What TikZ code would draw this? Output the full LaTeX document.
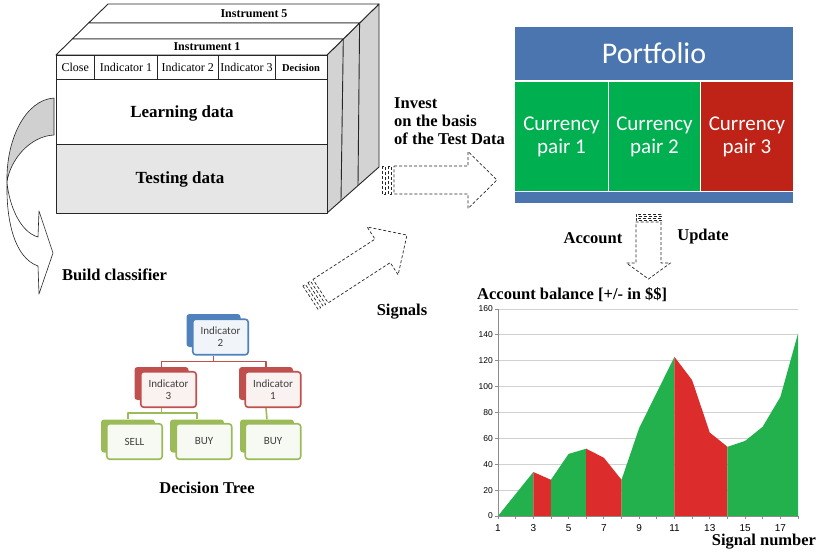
\documentclass[tikz,border=0pt]{standalone}
\usepackage{fontspec}
\setmainfont{Liberation Serif}
\newfontfamily\calib{Carlito}
\newfontfamily\arialf{Liberation Sans}
\definecolor{pblue}{HTML}{4A75AF}
\definecolor{pgreen}{HTML}{00B050}
\definecolor{pred}{HTML}{BF2318}
\definecolor{cgreen}{HTML}{22B14C}
\definecolor{cred}{HTML}{DD2C2C}
\definecolor{tblue}{HTML}{4F81BD}
\definecolor{tred}{HTML}{C0504D}
\definecolor{tgreen}{HTML}{9BBB59}
\definecolor{sidegray}{HTML}{D3D3D3}
\definecolor{testgray}{HTML}{E6E6E6}
\definecolor{curvegray}{HTML}{D0D0D0}
\begin{document}
\begin{tikzpicture}[x=1pt,y=-1pt,line join=round,
  big/.style={font=\fontsize{16.5}{18}\selectfont\bfseries, inner sep=0pt},
  bigger/.style={font=\fontsize{17}{19}\selectfont\bfseries, inner sep=0pt},
  hdr/.style={font=\fontsize{12}{13}\selectfont, inner sep=0pt},
  hdrb/.style={font=\fontsize{10.5}{12}\selectfont\bfseries, inner sep=0pt},
  instr/.style={font=\fontsize{12}{13}\selectfont\bfseries, inner sep=0pt},
  boxline/.style={draw=black!85, line width=0.9pt},
  thinline/.style={draw=black!85, line width=0.6pt},
  dsh/.style={draw=black!85, line width=0.7pt, dash pattern=on 3pt off 2pt, fill=white},
  tsh/.style={fill=#1, rounded corners=3pt, minimum width=54pt, minimum height=33pt, inner sep=0pt},
  tfr/.style={draw=#1, fill=#1!8, line width=1.6pt, rounded corners=3pt, minimum width=55.5pt, minimum height=35.5pt, inner sep=0pt, align=center, text=black!75, font=\calib\fontsize{11}{12}\selectfont},
  tcon/.style={draw=#1, line width=1.6pt},
  cell/.style={text=white, align=center, inner sep=0pt, font=\calib\fontsize{21}{23}\selectfont},
  gridl/.style={draw=black!18, line width=0.8pt},
  axisl/.style={draw=black!45, line width=0.8pt},
  ylab/.style={anchor=east, inner sep=0pt, font=\arialf\fontsize{8.5}{9}\selectfont},
  xlab/.style={inner sep=0pt, font=\arialf\fontsize{10}{11}\selectfont}
]
\useasboundingbox (0,0) rectangle (820,555);

% ---------------- data box ----------------
\filldraw[boxline, fill=sidegray] (327,55) -- (379,4) -- (379,167) -- (327,213) -- cycle;
\draw[boxline] (343.3,39) -- (341,200.6);
\draw[boxline] (359.6,23) -- (358,185.6);
\filldraw[boxline, fill=white] (88.6,23) -- (108,4) -- (379,4) -- (359.6,23) -- cycle;
\filldraw[boxline, fill=white] (72.3,39) -- (88.6,23) -- (359.6,23) -- (343.3,39) -- cycle;
\filldraw[boxline, fill=white] (56,55) -- (72.3,39) -- (343.3,39) -- (327,55) -- cycle;
\fill[white] (56,55) rectangle (327,144);
\fill[testgray] (56,144) rectangle (327,213);
\draw[boxline] (56,55) rectangle (327,213);
\draw[boxline] (56,79) -- (327,79);
\draw[boxline] (56,144) -- (327,144);
\foreach \xx in {94.5,157.5,218,275} \draw[thinline] (\xx,55) -- (\xx,79);

\node[instr] (inst5) at (254,13.5) {Instrument 5};
\node[instr] (inst1) at (207,47) {Instrument 1};
\node[hdr] (hclose) at (75.3,67.5) {Close};
\node[hdr] (hind1) at (126,67.5) {Indicator 1};
\node[hdr] (hind2) at (187.8,67.5) {Indicator 2};
\node[hdr] (hind3) at (246.5,67.5) {Indicator 3};
\node[hdrb] (hdec) at (301,67.5) {Decision};
\node[bigger] (learn) at (182,113) {Learning data};
\node[bigger] (testd) at (180,179) {Testing data};

% ---------------- curved arrow ----------------
\filldraw[thinline, fill=white] (7,182) .. controls (6,222) and (15,258) .. (38,266)
  -- (39,294) -- (53,253) -- (39,211) -- (38,237)
  .. controls (20,232) and (9,205) .. (7,182) -- cycle;
\filldraw[thinline, fill=curvegray] (54,98) .. controls (25,100) and (6,140) .. (7,182)
  .. controls (10,160) and (30,136) .. (54,135) -- cycle;

% ---------------- striped arrows ----------------
\begin{scope}[shift={(382,180)}]
 \draw[dsh] (12,-14) -- (86,-14) -- (86,-28.5) -- (115,0) -- (86,28.5) -- (86,14) -- (12,14) -- cycle;
 \draw[dsh] (0,-14) rectangle (3,14);
 \draw[dsh] (6,-14) rectangle (9,14);
\end{scope}
\begin{scope}[shift={(310.5,297.7)}, rotate=33]
 \draw[dsh] (12,-14) -- (86,-14) -- (86,-28.5) -- (115,0) -- (86,28.5) -- (86,14) -- (12,14) -- cycle;
 \draw[dsh] (0,-14) rectangle (3,14);
 \draw[dsh] (6,-14) rectangle (9,14);
\end{scope}
\begin{scope}[shift={(648.5,214)}, rotate=-90]
 \draw[dsh] (8,-12.5) -- (49,-12.5) -- (49,-22) -- (65,0) -- (49,22) -- (49,12.5) -- (8,12.5) -- cycle;
 \draw[dsh] (0,-12.5) rectangle (2.5,12.5);
 \draw[dsh] (4.5,-12.5) rectangle (6.5,12.5);
\end{scope}

\node[big, align=left, anchor=west] (invest) at (394,121) {Invest\\on the basis\\of the Test Data};
\node[big] (build) at (114.5,275) {Build classifier};
\node[big] (signals) at (402,312) {Signals};
\node[big] (account) at (593,238) {Account};
\node[big] (update) at (703,237) {Update};
\node[big] (dtree) at (207,488) {Decision Tree};

% ---------------- portfolio ----------------
\fill[pblue] (515,27) rectangle (793,203);
\fill[white] (515,79.5) rectangle (793,191.5);
\fill[pgreen] (515,81.5) rectangle (607.8,190.8);
\fill[pgreen] (609.3,81.5) rectangle (699.5,190.8);
\fill[pred] (701,81.5) rectangle (793,190.8);
\node[text=white, inner sep=0pt, font=\calib\fontsize{30}{32}\selectfont] (portfolio) at (654,53) {Portfolio};
\node[cell] (cp1) at (561.5,136.5) {Currency\\pair 1};
\node[cell] (cp2) at (654.5,136.5) {Currency\\pair 2};
\node[cell] (cp3) at (747,136.5) {Currency\\pair 3};

% ---------------- decision tree ----------------
\node[tsh=tblue] (rootS) at (213.5,330.5) {};
\node[tsh=tred] (l3S) at (161.5,383.5) {};
\node[tsh=tred] (r1S) at (266,383.5) {};
\node[tsh=tgreen] (sellS) at (128,436) {};
\node[tsh=tgreen] (buyaS) at (197,436) {};
\node[tsh=tgreen] (buybS) at (267,436) {};
\node[tfr=tblue] (rootF) at (220.5,337) {Indicator\\2};
\node[tfr=tred] (l3F) at (168.5,389.5) {Indicator\\3};
\node[tfr=tred] (r1F) at (273,389.5) {Indicator\\1};
\node[tfr=tgreen] (sellF) at (134.5,441.5) {SELL};
\node[tfr=tgreen] (buyaF) at (204,441.5) {BUY};
\node[tfr=tgreen] (buybF) at (273,441.5) {BUY};
\draw[tcon=tred] (rootS.center |- rootF.south) -- ++(0,6) coordinate (rj);
\draw[tcon=tred] (rj) -| (l3S.north);
\draw[tcon=tred] (rj) -| (r1S.north);
\draw[tcon=tgreen] (l3S.center |- l3F.south) -- ++(0,5) coordinate (gj);
\draw[tcon=tgreen] (gj) -| (sellS.north);
\draw[tcon=tgreen] (gj) -| (buyaS.north);
\draw[tcon=tgreen] (r1S.center |- r1F.south) -- (buybS.north);

% ---------------- chart ----------------
\node[big, anchor=west] (ctitle) at (477,295) {Account balance [+/- in \$\$]};
\begin{scope}[shift={(498,516)}, x=17.647pt, y=1.29375pt]
  \foreach \v in {20,40,...,160} \draw[gridl] (0,\v) -- (17,\v);
  \fill[cgreen] (0,0) -- (1,17) -- (2,34) -- (2,0) -- cycle;
  \fill[cred] (2,0) -- (2,34) -- (3,28) -- (3,0) -- cycle;
  \fill[cgreen] (3,0) -- (3,28) -- (4,48) -- (5,52) -- (5,0) -- cycle;
  \fill[cred] (5,0) -- (5,52) -- (6,45) -- (7,28) -- (7,0) -- cycle;
  \fill[cgreen] (7,0) -- (7,28) -- (8,68) -- (9,95.5) -- (10,123) -- (10,0) -- cycle;
  \fill[cred] (10,0) -- (10,123) -- (11,105) -- (12,64.5) -- (13,53.5) -- (13,0) -- cycle;
  \fill[cgreen] (13,0) -- (13,53.5) -- (14,58) -- (15,69) -- (16,92) -- (17,141) -- (17,0) -- cycle;
  \draw[axisl] (0,0) -- (0,160);
  \draw[axisl] (0,0) -- (17,0);
  \foreach \i in {0,...,17} \draw[axisl] (\i,0) -- ++(0,-3pt);
  \foreach \v in {0,20,...,160} {
    \draw[axisl] (0,\v) -- ++(-3pt,0);
    \node[ylab] (yl\v) at ([xshift=-5pt]0,\v) {\v};
  }
  \foreach \i/\t in {0/1,2/3,4/5,6/7,8/9,10/11,12/13,14/15,16/17}
    \node[xlab] (xl\t) at ([yshift=-12pt]\i,0) {\t};
\end{scope}
\node[big] (signum) at (764,542) {Signal number};
\end{tikzpicture}
\end{document}
